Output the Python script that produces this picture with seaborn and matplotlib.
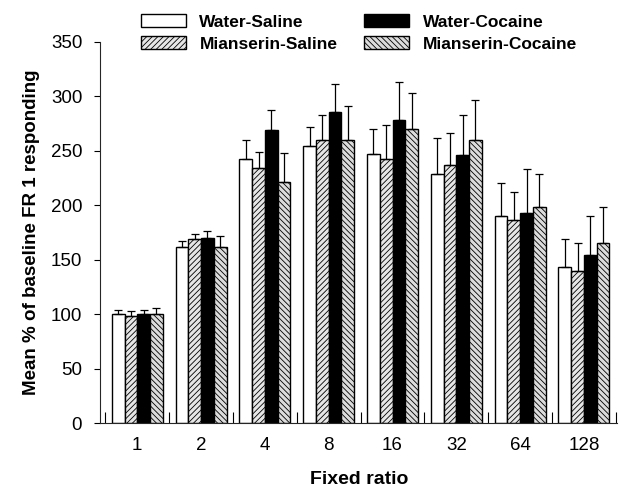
import numpy as np
import pandas as pd
import matplotlib
matplotlib.use('Agg')
import matplotlib.pyplot as plt
import seaborn as sns
from matplotlib.ticker import FixedLocator

ratios = ['1', '2', '4', '8', '16', '32', '64', '128']
groups = ['Water-Saline', 'Mianserin-Saline', 'Water-Cocaine', 'Mianserin-Cocaine']

ws_mean = [100, 162, 242, 254, 247, 229, 190, 143]
ms_mean = [98, 169, 234, 260, 242, 237, 186, 140]
wc_mean = [100, 170, 269, 286, 278, 246, 193, 154]
mc_mean = [100, 162, 221, 260, 270, 260, 198, 165]

ws_err = [4, 5, 18, 18, 23, 33, 30, 26]
ms_err = [5, 5, 15, 23, 32, 29, 26, 25]
wc_err = [4, 6, 18, 25, 35, 37, 40, 36]
mc_err = [6, 10, 27, 31, 33, 37, 31, 33]

means = [ws_mean, ms_mean, wc_mean, mc_mean]
errs = [ws_err, ms_err, wc_err, mc_err]

rows = []
for g, m, e in zip(groups, means, errs):
    for r, v, s in zip(ratios, m, e):
        rows.append({'ratio': r, 'group': g, 'mean': v, 'err': s})
df = pd.DataFrame(rows)

sns.set_style('ticks')
plt.rcParams['font.family'] = ['Liberation Sans', 'DejaVu Sans']
plt.rcParams['text.color'] = 'black'
plt.rcParams['axes.labelcolor'] = 'black'
plt.rcParams['xtick.color'] = 'black'
plt.rcParams['ytick.color'] = 'black'
plt.rcParams['hatch.color'] = '0.35'
plt.rcParams['hatch.linewidth'] = 0.6

fig = plt.figure(figsize=(6.19, 4.92), dpi=100)
ax = fig.add_axes([0.162, 0.140, 0.835, 0.775])

palette = ['white', '#e6e6e6', 'black', '#dcdcdc']
hatches = ['', '//////', '', '\\\\\\\\\\\\']
sns.barplot(data=df, x='ratio', y='mean', hue='group', order=ratios, hue_order=groups,
            palette=palette, errorbar=None, width=0.8, edgecolor='black', linewidth=1.0,
            saturation=1, ax=ax)

for cont, h, g in zip(ax.containers, hatches, groups):
    sub = df[df['group'] == g]
    xs = [p.get_x() + p.get_width() / 2 for p in cont.patches]
    for p in cont.patches:
        p.set_hatch(h)
        p.set_edgecolor('black')
    ax.errorbar(xs, sub['mean'].values, yerr=[np.zeros(len(xs)), sub['err'].values],
                fmt='none', ecolor='black', elinewidth=0.9, capsize=3, capthick=0.9, zorder=3)

ax.set_ylim(0, 350)
ax.set_xlim(-0.58, 7.52)
ax.set_yticks(range(0, 351, 50))
ax.tick_params(axis='y', labelsize=13.5, length=4, width=0.8, direction='out', pad=9)
ax.tick_params(axis='x', which='major', labelsize=13.5, length=0, pad=10)
ax.xaxis.set_minor_locator(FixedLocator(np.arange(-0.5, 8, 1)))
ax.tick_params(axis='x', which='minor', direction='in', length=8, width=0.8)
for s in ['top', 'right']:
    ax.spines[s].set_visible(False)
ax.spines['left'].set_linewidth(0.8)
ax.spines['bottom'].set_linewidth(0.8)

ax.set_xlabel('Fixed ratio', fontsize=14, fontweight='bold', labelpad=12)
ax.set_ylabel('Mean % of baseline FR 1 responding', fontsize=13.5, fontweight='bold', labelpad=8)

handles, labels = ax.get_legend_handles_labels()
ax.get_legend().remove()
for hd, h in zip(handles, hatches):
    hd.set_hatch(h)
    hd.set_edgecolor('black')
fig.legend(handles, labels, ncol=2, frameon=False, loc='upper center',
           bbox_to_anchor=(0.58, 1.003), prop={'weight': 'bold', 'size': 12.5},
           handlelength=2.6, handleheight=0.8, columnspacing=1.55, labelspacing=0.36,
           handletextpad=0.75)

fig.savefig('out.png', dpi=100)
